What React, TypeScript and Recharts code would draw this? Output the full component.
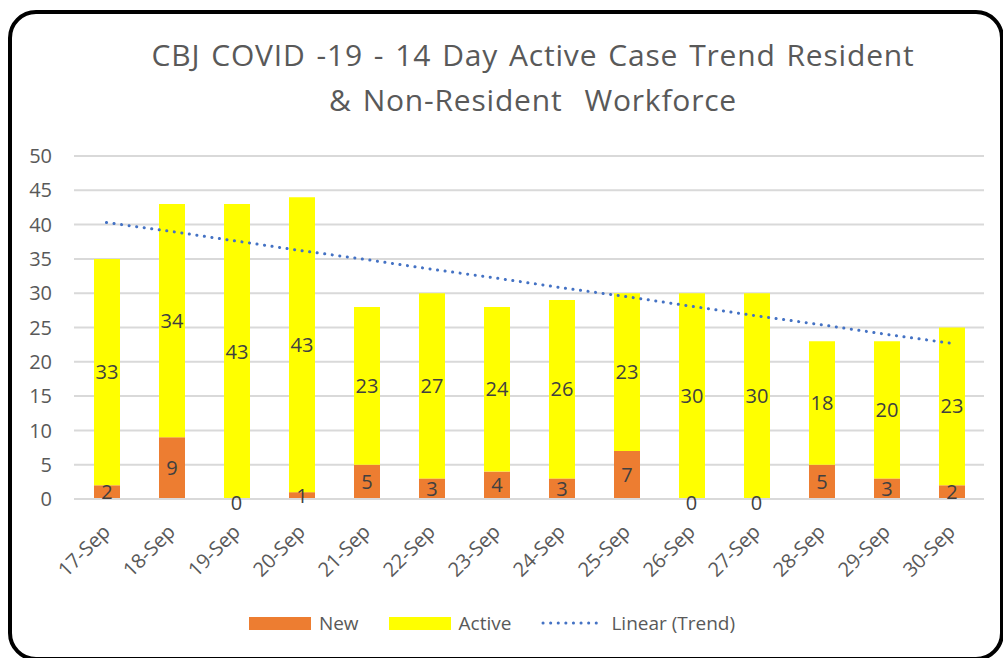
import React from "react";
import {
  ComposedChart,
  Bar,
  Line,
  XAxis,
  YAxis,
  CartesianGrid,
  Legend,
  LabelList,
} from "recharts";

// values read off the reference
const days = ["17-Sep", "18-Sep", "19-Sep", "20-Sep", "21-Sep", "22-Sep", "23-Sep", "24-Sep", "25-Sep", "26-Sep", "27-Sep", "28-Sep", "29-Sep", "30-Sep"];
const newCases = [2, 9, 0, 1, 5, 3, 4, 3, 7, 0, 0, 5, 3, 2];
const activeCases = [33, 34, 43, 43, 23, 27, 24, 26, 23, 30, 30, 18, 20, 23];
const trendValues = [40.3, 39.0, 37.6, 36.2, 34.9, 33.5, 32.2, 30.8, 29.5, 28.1, 26.7, 25.4, 24.0, 22.7];
const yTicks = [0, 5, 10, 15, 20, 25, 30, 35, 40, 45, 50];

const data = days.map((d, i) => ({
  day: d,
  New: newCases[i],
  Active: activeCases[i],
  Trend: trendValues[i],
}));

const FONT = "'Open Sans', sans-serif";
const GREY = "#595959";

const DateTick = ({ x, y, payload }: any) => (
  <g transform={`translate(${x + 5},${y + 26})`}>
    <text x={0} y={0} textAnchor="end" transform="rotate(-45)" fill={GREY} fontSize={20} fontFamily={FONT}>
      {payload.value}
    </text>
  </g>
);

// zero-height bars get no label from LabelList, so draw the "0"s off a hidden line
const ZeroLabel = (props: any) => {
  const { x, y, value, index } = props;
  if (value !== 0) return <g key={`z${index}`} />;
  return (
    <text key={`z${index}`} x={x} y={y + 3} textAnchor="middle" dominantBaseline="central" fill="#404040" fontSize={20} fontFamily={FONT}>
      0
    </text>
  );
};

const legendItems = [
  { name: "New", kind: "bar", color: "#ED7D31" },
  { name: "Active", kind: "bar", color: "#FFFF00" },
  { name: "Linear (Trend)", kind: "line", color: "#4472C4" },
];

const LegendBox = () => (
  <div style={{ display: "flex", justifyContent: "center", alignItems: "center", gap: 30, fontFamily: FONT, fontSize: 19, color: GREY, height: 50 }}>
    {legendItems.map((it) => (
      <div key={it.name} style={{ display: "flex", alignItems: "center", gap: 8 }}>
        {it.kind === "bar" ? (
          <div style={{ width: 62, height: 13, background: it.color }} />
        ) : (
          <svg width={62} height={14}>
            <line x1={2} y1={7} x2={60} y2={7} stroke={it.color} strokeWidth={3} strokeDasharray="0.1 7.5" strokeLinecap="round" />
          </svg>
        )}
        <span>{it.name}</span>
      </div>
    ))}
  </div>
);

export default function App() {
  return (
    <div style={{ position: "fixed", left: 0, top: 0, width: 1003, height: 658, overflow: "hidden", background: "#fff" }}>
      <div
        style={{
          position: "absolute",
          left: 8,
          top: 10,
          width: 996,
          height: 651,
          border: "4px solid #000",
          borderRadius: 28,
          boxSizing: "border-box",
        }}
      />
      <div
        style={{
          position: "absolute",
          left: 0,
          top: 32,
          width: 1066,
          textAlign: "center",
          fontFamily: FONT,
          fontSize: 30,
          letterSpacing: 0.8,
          wordSpacing: 2.4,
          lineHeight: "45px",
          color: GREY,
        }}
      >
        CBJ COVID -19 - 14 Day Active Case Trend Resident
        <br />& Non-Resident&nbsp; Workforce
      </div>
      <div style={{ position: "absolute", left: 0, top: 0 }}>
        <ComposedChart width={1003} height={658} data={data} margin={{ top: 156, right: 19, bottom: 10, left: 0 }}>
          <CartesianGrid vertical={false} stroke="#d9d9d9" strokeWidth={2} />
          <XAxis
            dataKey="day"
            interval={0}
            tickLine={false}
            axisLine={{ stroke: "#d9d9d9", strokeWidth: 2 }}
            height={99}
            tick={<DateTick />}
          />
          <YAxis
            domain={[0, 50]}
            ticks={yTicks}
            width={74}
            axisLine={false}
            tickLine={false}
            tickMargin={16}
            tick={{ fill: GREY, fontSize: 20, fontFamily: FONT }}
          />
          <Legend verticalAlign="bottom" height={50} content={<LegendBox />} />
          <Bar dataKey="New" stackId="a" fill="#ED7D31" barSize={26} isAnimationActive={false}>
            <LabelList dataKey="New" position="center" fill="#404040" fontSize={20} fontFamily={FONT} />
          </Bar>
          <Bar dataKey="Active" stackId="a" fill="#FFFF00" barSize={26} isAnimationActive={false}>
            <LabelList dataKey="Active" position="center" fill="#404040" fontSize={20} fontFamily={FONT} />
          </Bar>
          <Line
            dataKey="New"
            stroke="none"
            dot={false}
            activeDot={false}
            legendType="none"
            label={ZeroLabel}
            isAnimationActive={false}
          />
          <Line
            dataKey="Trend"
            type="linear"
            stroke="#4472C4"
            strokeWidth={3}
            strokeDasharray="0.1 7.5"
            strokeLinecap="round"
            dot={false}
            activeDot={false}
            legendType="none"
            isAnimationActive={false}
          />
        </ComposedChart>
      </div>
    </div>
  );
}
